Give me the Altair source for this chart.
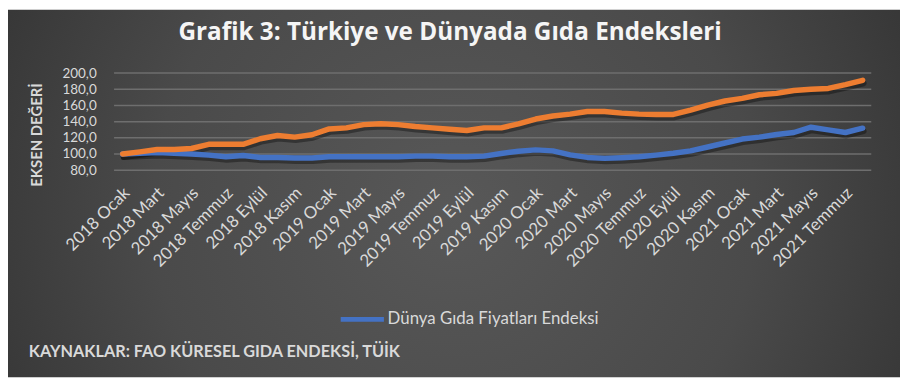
import altair as alt
import pandas as pd

months = [
    "2018 Ocak", "2018 Şubat", "2018 Mart", "2018 Nisan", "2018 Mayıs", "2018 Haziran",
    "2018 Temmuz", "2018 Ağustos", "2018 Eylül", "2018 Ekim", "2018 Kasım", "2018 Aralık",
    "2019 Ocak", "2019 Şubat", "2019 Mart", "2019 Nisan", "2019 Mayıs", "2019 Haziran",
    "2019 Temmuz", "2019 Ağustos", "2019 Eylül", "2019 Ekim", "2019 Kasım", "2019 Aralık",
    "2020 Ocak", "2020 Şubat", "2020 Mart", "2020 Nisan", "2020 Mayıs", "2020 Haziran",
    "2020 Temmuz", "2020 Ağustos", "2020 Eylül", "2020 Ekim", "2020 Kasım", "2020 Aralık",
    "2021 Ocak", "2021 Şubat", "2021 Mart", "2021 Nisan", "2021 Mayıs", "2021 Haziran",
    "2021 Temmuz", "2021 Ağustos",
]
tick_labels = months[::2]

turkiye = [
    100.0, 102.6, 105.5, 105.5, 106.8, 112.0, 112.0, 112.0, 118.9, 122.9, 120.9, 123.8,
    131.0, 132.3, 136.3, 137.5, 136.3, 133.9, 132.3, 130.6, 129.0, 132.3, 132.3, 137.2,
    143.2, 146.9, 149.3, 152.5, 152.5, 150.5, 149.3, 148.9, 148.9, 154.2, 160.3, 165.5,
    168.8, 173.2, 174.9, 178.5, 180.1, 181.0, 185.8, 191.1,
]
dunya = [
    100.0, 101.0, 101.8, 101.0, 100.0, 98.6, 96.6, 98.2, 95.8, 95.8, 95.0, 95.0,
    96.6, 96.6, 96.6, 96.6, 96.6, 97.4, 97.4, 96.6, 96.6, 97.4, 100.7, 103.5,
    105.1, 103.9, 99.0, 95.8, 94.6, 95.4, 96.6, 98.6, 101.0, 103.9, 108.7, 113.6,
    118.5, 120.9, 124.2, 126.6, 133.1, 129.8, 126.6, 131.9,
]
series_names = ["Dünya Gıda Fiyatları Endeksi", "Türkiye Gıda Fiyatları Endeksi"]
series_colors = ["#4472C4", "#ED7D31"]
y_ticks = [80, 100, 120, 140, 160, 180, 200]

title_text = "Grafik 3: Türkiye ve Dünyada Gıda Endeksleri"
source_text = "KAYNAKLAR: FAO KÜRESEL GIDA ENDEKSİ, TÜİK"
y_title = "EKSEN DEĞERİ"

rows = []
for m, v in zip(months, dunya):
    rows.append({"ay": m, "deger": v, "seri": series_names[0]})
for m, v in zip(months, turkiye):
    rows.append({"ay": m, "deger": v, "seri": series_names[1]})
df = pd.DataFrame(rows)

FONT = "Lato"
W, H = 764, 98
LBL = "#d9d9d9"

bg = alt.Chart(alt.Data(values=[{}])).mark_rect(
    color=alt.RadialGradient(
        gradient="radial",
        stops=[alt.GradientStop(color="#585858", offset=0),
               alt.GradientStop(color="#4a4a4a", offset=0.45),
               alt.GradientStop(color="#262626", offset=1)],
        x1=0.5, y1=0.52, r1=0, x2=0.5, y2=0.52, r2=0.75,
    )
).encode(x=alt.value(-107), x2=alt.value(793), y=alt.value(-64), y2=alt.value(307))

yscale = alt.Scale(domain=[80, 200], nice=False, zero=False)
yaxis = alt.Axis(
    values=y_ticks, grid=False, domain=False, ticks=False, zindex=1,
    labelExpr="replace(format(datum.value, '.1f'), '.', ',')",
    labelColor=LBL, labelFont=FONT, labelFontSize=13.6, labelPadding=18,
    labelOverlap=False, labelBaseline="middle", labelFlush=False,
    title=y_title, titleColor=LBL, titleFont=FONT, titleFontSize=15,
    titleFontWeight="bold", titleAngle=-90, titleX=-78, titleY=62,
    titleAlign="center", titleBaseline="middle",
)

grid = alt.Chart(pd.DataFrame({"deger": y_ticks})).mark_rule(
    color="#6e6e6e", strokeWidth=1.5
).encode(y=alt.Y("deger:Q", scale=yscale, axis=yaxis))

xdef = alt.X(
    "ay:O", sort=months,
    axis=alt.Axis(
        values=tick_labels, grid=False, domain=False, ticks=False, zindex=1,
        labelAngle=-45, labelAlign="right", labelBaseline="middle",
        labelColor=LBL, labelFont=FONT, labelFontSize=17, labelPadding=20,
        labelOffset=4, title=None, labelOverlap=False,
    ),
)

yline = alt.Y("deger:Q", scale=yscale, axis=yaxis)

shadow = alt.Chart(df).mark_line(
    color="black", opacity=0.35, strokeWidth=6, xOffset=1, yOffset=3,
    strokeCap="round", strokeJoin="round",
).encode(x=xdef, y=yline, detail="seri:N")

lines = alt.Chart(df).mark_line(
    strokeWidth=5.5, strokeCap="round", strokeJoin="round"
).encode(
    x=xdef, y=yline,
    color=alt.Color(
        "seri:N",
        scale=alt.Scale(domain=series_names, range=series_colors),
        legend=alt.Legend(
            orient="none", legendX=226, legendY=224, values=[series_names[0]],
            title=None, symbolType="stroke", symbolStrokeWidth=5, symbolSize=1900,
            labelColor=LBL, labelFont=FONT, labelFontSize=17, labelLimit=400,
            labelOffset=1, padding=0,
        ),
    ),
)

title = alt.Chart(alt.Data(values=[{"t": title_text}])).mark_text(
    font="Open Sans", fontSize=24.5, fontWeight="bold", color="#f5f5f5",
    align="center", baseline="middle",
).encode(text="t:N", x=alt.value(339), y=alt.value(-40))

source = alt.Chart(alt.Data(values=[{"t": source_text}])).mark_text(
    font=FONT, fontSize=16.4, fontWeight="bold", color=LBL,
    align="left", baseline="middle",
).encode(text="t:N", x=alt.value(-86), y=alt.value(281))

chart = alt.layer(bg, grid, shadow, lines, title, source).properties(
    width=W, height=H, padding=0
).configure_view(stroke=None)

chart.save("out.html", embed_options={"renderer": "svg", "actions": False})
